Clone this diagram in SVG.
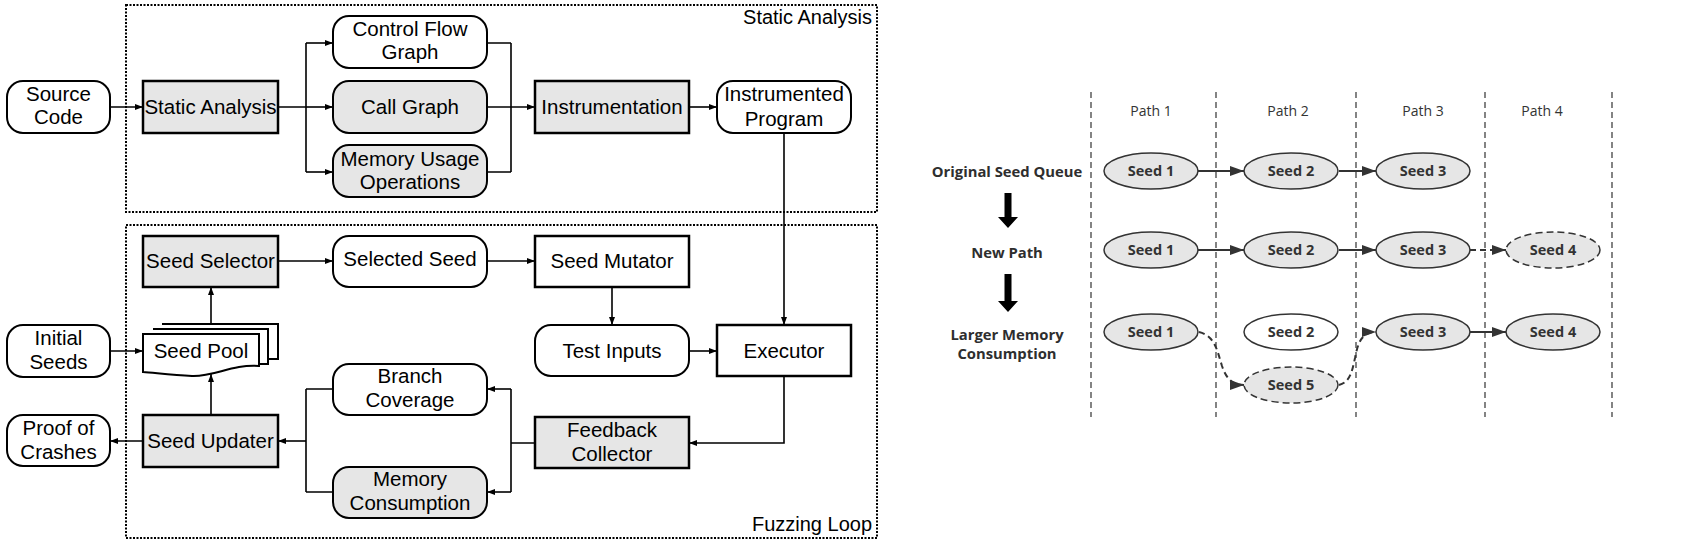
<svg xmlns="http://www.w3.org/2000/svg" width="1700" height="546" viewBox="0 0 1700 546">
<style>
.t{font-family:"Liberation Sans",Arial,sans-serif;font-size:20.5px;fill:#000;text-anchor:middle}
.te{font-family:"Liberation Sans",Arial,sans-serif;font-size:20px;fill:#000;text-anchor:end}
.box{fill:#fff;stroke:#000;stroke-width:2.5}
.gbox{fill:#e6e6e6;stroke:#000;stroke-width:2.5}
.rbox{fill:#fff;stroke:#000;stroke-width:2}
.grbox{fill:#e6e6e6;stroke:#000;stroke-width:2}
.grp{fill:none;stroke:#000;stroke-width:2;stroke-dasharray:2,1.5}
.c{fill:none;stroke:#000;stroke-width:1.6}
.ca{fill:none;stroke:#000;stroke-width:1.6;marker-end:url(#ah)}
.pl{font-family:"Open Sans","Liberation Sans",sans-serif;font-size:14px;fill:#333;text-anchor:middle}
.rl{font-family:"Open Sans","Liberation Sans",sans-serif;font-size:14.8px;font-weight:bold;fill:#2e2e2e;text-anchor:middle}
.st{font-family:"Open Sans","Liberation Sans",sans-serif;font-size:14.5px;font-weight:bold;fill:#333;text-anchor:middle}
.e{fill:#e6e6e6;stroke:#333;stroke-width:1.5}
.ew{fill:#fff;stroke:#333;stroke-width:1.5}
.ed{fill:#e6e6e6;stroke:#333;stroke-width:1.5;stroke-dasharray:7,4}
.vl{stroke:#333;stroke-width:1.2;stroke-dasharray:6,4}
.ra{fill:none;stroke:#333;stroke-width:2;marker-end:url(#rh)}
.rad{fill:none;stroke:#333;stroke-width:2;stroke-dasharray:6,4;marker-end:url(#rh)}
</style>
<defs>
<marker id="ah" markerUnits="userSpaceOnUse" markerWidth="10" markerHeight="10" refX="8" refY="4" orient="auto">
<path d="M0,1 L8,4 L0,7 Z" fill="#000"/>
</marker>
<marker id="rh" markerUnits="userSpaceOnUse" markerWidth="16" markerHeight="12" refX="14" refY="5" orient="auto">
<path d="M0,0 L14,5 L0,10 Z" fill="#333"/>
</marker>
</defs>
<rect width="1700" height="546" fill="#fff"/>

<g id="static-analysis-group">
<rect class="grp" x="126" y="5" width="751" height="207"/>
<text class="te" x="872" y="24">Static Analysis</text>
</g>
<g id="fuzzing-loop-group">
<rect class="grp" x="126" y="225" width="751" height="313"/>
<text class="te" x="872" y="531">Fuzzing Loop</text>
</g>

<g id="connectors">
<path class="ca" d="M110,107 H143"/>
<path class="c" d="M278,107 H306 M306,43 V172 M511,43 V172 M487,43 H511 M487,172 H511"/>
<path class="ca" d="M306,43 H333"/>
<path class="ca" d="M306,107 H333"/>
<path class="ca" d="M306,172 H333"/>
<path class="ca" d="M487,107 H535"/>
<path class="ca" d="M689,107 H717"/>
<path class="ca" d="M784,133 V325"/>
<path class="ca" d="M278,261 H333"/>
<path class="ca" d="M487,261 H535"/>
<path class="ca" d="M612,287 V325"/>
<path class="ca" d="M689,351 H717"/>
<path class="ca" d="M784,376 V443 H689"/>
<path class="c" d="M535,443 H511 M511,389 V492 M333,389 H306 M333,492 H306 M306,389 V492"/>
<path class="ca" d="M511,389 H487"/>
<path class="ca" d="M511,492 H487"/>
<path class="ca" d="M306,441 H278"/>
<path class="ca" d="M143,441 H110"/>
<path class="ca" d="M110,351 H143"/>
<path class="ca" d="M211,324 V287"/>
<path class="ca" d="M211,415 V374"/>
</g>

<g id="source-code"><rect class="rbox" x="7" y="81" width="103" height="52" rx="16"/><text class="t" x="58.5" y="101">Source</text><text class="t" x="58.5" y="124">Code</text></g>
<g id="static-analysis"><rect class="gbox" x="143" y="81" width="135" height="52"/><text class="t" x="210.5" y="114">Static Analysis</text></g>
<g id="control-flow-graph"><rect class="rbox" x="333" y="16" width="154" height="52" rx="16"/><text class="t" x="410" y="36">Control Flow</text><text class="t" x="410" y="59">Graph</text></g>
<g id="call-graph"><rect class="grbox" x="333" y="81" width="154" height="52" rx="16"/><text class="t" x="410" y="114">Call Graph</text></g>
<g id="memory-usage-operations"><rect class="grbox" x="333" y="145" width="154" height="52" rx="16"/><text class="t" x="410" y="166">Memory Usage</text><text class="t" x="410" y="189">Operations</text></g>
<g id="instrumentation"><rect class="gbox" x="535" y="81" width="154" height="52"/><text class="t" x="612" y="114">Instrumentation</text></g>
<g id="instrumented-program"><rect class="rbox" x="717" y="81" width="134" height="52" rx="16"/><text class="t" x="784" y="101">Instrumented</text><text class="t" x="784" y="126">Program</text></g>

<g id="seed-selector"><rect class="gbox" x="143" y="236" width="135" height="51"/><text class="t" x="210.5" y="268">Seed Selector</text></g>
<g id="selected-seed"><rect class="rbox" x="333" y="236" width="154" height="51" rx="16"/><text class="t" x="410" y="266">Selected Seed</text></g>
<g id="seed-mutator"><rect class="box" x="535" y="236" width="154" height="51"/><text class="t" x="612" y="268">Seed Mutator</text></g>
<g id="seed-pool">
<path d="M162,324 H278 V359 H268" fill="#fff" stroke="#000" stroke-width="2"/>
<path d="M153,329 H268 V364 H259" fill="#fff" stroke="#000" stroke-width="2"/>
<path d="M143,334 H259 V366 C232,364 214,377 192,376 C172,375 156,373 143,372 Z" fill="#fff" stroke="#000" stroke-width="2"/>
<text class="t" x="201" y="358">Seed Pool</text>
</g>
<g id="initial-seeds"><rect class="rbox" x="7" y="325" width="103" height="52" rx="16"/><text class="t" x="58.5" y="345">Initial</text><text class="t" x="58.5" y="369">Seeds</text></g>
<g id="test-inputs"><rect class="rbox" x="535" y="325" width="154" height="51" rx="16"/><text class="t" x="612" y="358">Test Inputs</text></g>
<g id="executor"><rect class="box" x="717" y="325" width="134" height="51"/><text class="t" x="784" y="358">Executor</text></g>
<g id="branch-coverage"><rect class="rbox" x="333" y="364" width="154" height="51" rx="16"/><text class="t" x="410" y="383">Branch</text><text class="t" x="410" y="407">Coverage</text></g>
<g id="feedback-collector"><rect class="gbox" x="535" y="417" width="154" height="51"/><text class="t" x="612" y="437">Feedback</text><text class="t" x="612" y="461">Collector</text></g>
<g id="seed-updater"><rect class="gbox" x="143" y="415" width="135" height="52"/><text class="t" x="210.5" y="448">Seed Updater</text></g>
<g id="proof-of-crashes"><rect class="rbox" x="7" y="415" width="103" height="51" rx="16"/><text class="t" x="58.5" y="435">Proof of</text><text class="t" x="58.5" y="459">Crashes</text></g>
<g id="memory-consumption"><rect class="grbox" x="333" y="467" width="154" height="51" rx="16"/><text class="t" x="410" y="486">Memory</text><text class="t" x="410" y="510">Consumption</text></g>

<g id="path-lanes">
<line class="vl" x1="1091" y1="92" x2="1091" y2="417"/>
<line class="vl" x1="1216" y1="92" x2="1216" y2="417"/>
<line class="vl" x1="1356" y1="92" x2="1356" y2="417"/>
<line class="vl" x1="1485" y1="92" x2="1485" y2="417"/>
<line class="vl" x1="1612" y1="92" x2="1612" y2="417"/>
<text class="pl" x="1151" y="116">Path 1</text>
<text class="pl" x="1288" y="116">Path 2</text>
<text class="pl" x="1423" y="116">Path 3</text>
<text class="pl" x="1542" y="116">Path 4</text>
</g>
<g id="row-labels">
<text class="rl" x="1007" y="177">Original Seed Queue</text>
<text class="rl" x="1007" y="258">New Path</text>
<text class="rl" x="1007" y="340">Larger Memory</text>
<text class="rl" x="1007" y="359">Consumption</text>
<path d="M1004.5,193 H1011.5 V217 H1018 L1008,228 L998,217 H1004.5 Z" fill="#000"/>
<path d="M1004.5,274 H1011.5 V301 H1018 L1008,312 L998,301 H1004.5 Z" fill="#000"/>
</g>

<g id="seed-connectors">
<path class="ra" d="M1198,171 H1244"/>
<path class="ra" d="M1339,171 H1376"/>
<path class="ra" d="M1198,250 H1244"/>
<path class="ra" d="M1339,250 H1376"/>
<path class="rad" d="M1470,250 H1506"/>
<path class="rad" d="M1199,332 C1215,336 1217,350 1222,366 C1226,378 1232,385 1244,385"/>
<path class="rad" d="M1339,385 C1350,382 1352,372 1355,358 C1358,342 1362,332 1376,332"/>
<path class="ra" d="M1470,332 H1506"/>
</g>

<g id="r1-seed1"><ellipse class="e" cx="1151" cy="171" rx="47" ry="18"/><text class="st" x="1151" y="176">Seed 1</text></g>
<g id="r1-seed2"><ellipse class="e" cx="1291" cy="171" rx="47" ry="18"/><text class="st" x="1291" y="176">Seed 2</text></g>
<g id="r1-seed3"><ellipse class="e" cx="1423" cy="171" rx="47" ry="18"/><text class="st" x="1423" y="176">Seed 3</text></g>
<g id="r2-seed1"><ellipse class="e" cx="1151" cy="250" rx="47" ry="18"/><text class="st" x="1151" y="255">Seed 1</text></g>
<g id="r2-seed2"><ellipse class="e" cx="1291" cy="250" rx="47" ry="18"/><text class="st" x="1291" y="255">Seed 2</text></g>
<g id="r2-seed3"><ellipse class="e" cx="1423" cy="250" rx="47" ry="18"/><text class="st" x="1423" y="255">Seed 3</text></g>
<g id="r2-seed4"><ellipse class="ed" cx="1553" cy="250" rx="47" ry="18"/><text class="st" x="1553" y="255">Seed 4</text></g>
<g id="r3-seed1"><ellipse class="e" cx="1151" cy="332" rx="47" ry="18"/><text class="st" x="1151" y="337">Seed 1</text></g>
<g id="r3-seed2"><ellipse class="ew" cx="1291" cy="332" rx="47" ry="18"/><text class="st" x="1291" y="337">Seed 2</text></g>
<g id="r3-seed3"><ellipse class="e" cx="1423" cy="332" rx="47" ry="18"/><text class="st" x="1423" y="337">Seed 3</text></g>
<g id="r3-seed4"><ellipse class="e" cx="1553" cy="332" rx="47" ry="18"/><text class="st" x="1553" y="337">Seed 4</text></g>
<g id="r3-seed5"><ellipse class="ed" cx="1291" cy="385" rx="47" ry="18"/><text class="st" x="1291" y="390">Seed 5</text></g>
</svg>
